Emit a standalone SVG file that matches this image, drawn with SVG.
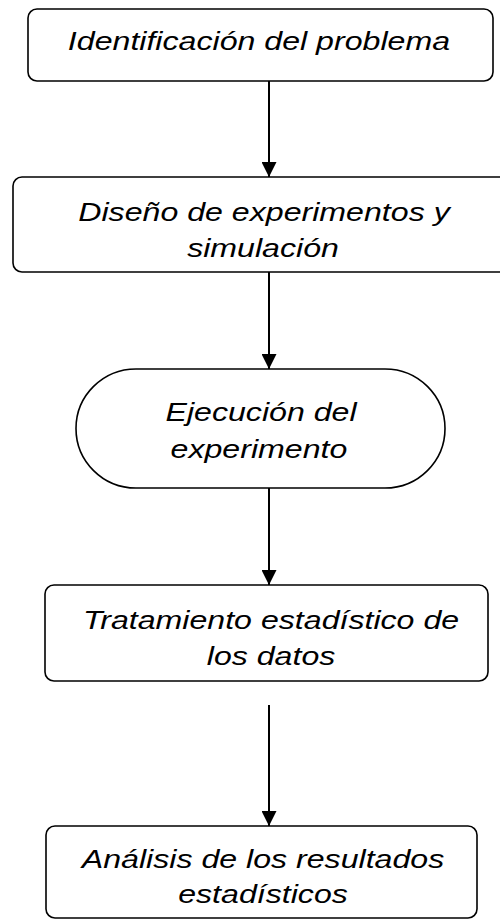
<svg xmlns="http://www.w3.org/2000/svg" width="500" height="919" viewBox="0 0 500 919">
<defs>
<marker id="ah" markerWidth="15" markerHeight="15" refX="15" refY="7.5" orient="auto" markerUnits="userSpaceOnUse">
<path d="M0,0 L15,7.5 L0,15 Z" fill="#000"/>
</marker>
</defs>
<style>
.n{fill:#fff;stroke:#000;stroke-width:1.6}
.t{font-family:"Liberation Sans",Arial,sans-serif;font-style:italic;font-size:26px;fill:#000;text-anchor:middle}
.c{stroke:#000;stroke-width:2;fill:none;marker-end:url(#ah)}
</style>
<rect width="500" height="919" fill="#fff"/>
<g id="connectors">
<line class="c" x1="269" y1="81" x2="269" y2="177"/>
<line class="c" x1="269" y1="272" x2="269" y2="369"/>
<line class="c" x1="269" y1="488" x2="269" y2="585"/>
<line class="c" x1="269" y1="705" x2="269" y2="826"/>
</g>
<g id="n1">
<rect class="n" x="28" y="9" width="465" height="72" rx="9"/>
<text class="t" transform="scale(1.236,1)" x="209.5" y="50">Identificación del problema</text>
</g>
<g id="n2">
<rect class="n" x="13" y="177" width="500" height="95" rx="9"/>
<text class="t" transform="scale(1.236,1)" x="213.6" y="221">Diseño de experimentos y</text>
<text class="t" transform="scale(1.236,1)" x="212.8" y="257">simulación</text>
</g>
<g id="n3">
<rect class="n" x="76" y="369" width="369" height="119" rx="60" ry="59.5"/>
<text class="t" transform="scale(1.236,1)" x="211.2" y="421">Ejecución del</text>
<text class="t" transform="scale(1.236,1)" x="209.5" y="458">experimento</text>
</g>
<g id="n4">
<rect class="n" x="45" y="585" width="443" height="96" rx="9"/>
<text class="t" transform="scale(1.236,1)" x="219.3" y="629">Tratamiento estadístico de</text>
<text class="t" transform="scale(1.236,1)" x="219.3" y="665">los datos</text>
</g>
<g id="n5">
<rect class="n" x="46" y="826" width="431" height="92" rx="9"/>
<text class="t" transform="scale(1.236,1)" x="212.8" y="868">Análisis de los resultados</text>
<text class="t" transform="scale(1.236,1)" x="212.8" y="903">estadísticos</text>
</g>
</svg>
